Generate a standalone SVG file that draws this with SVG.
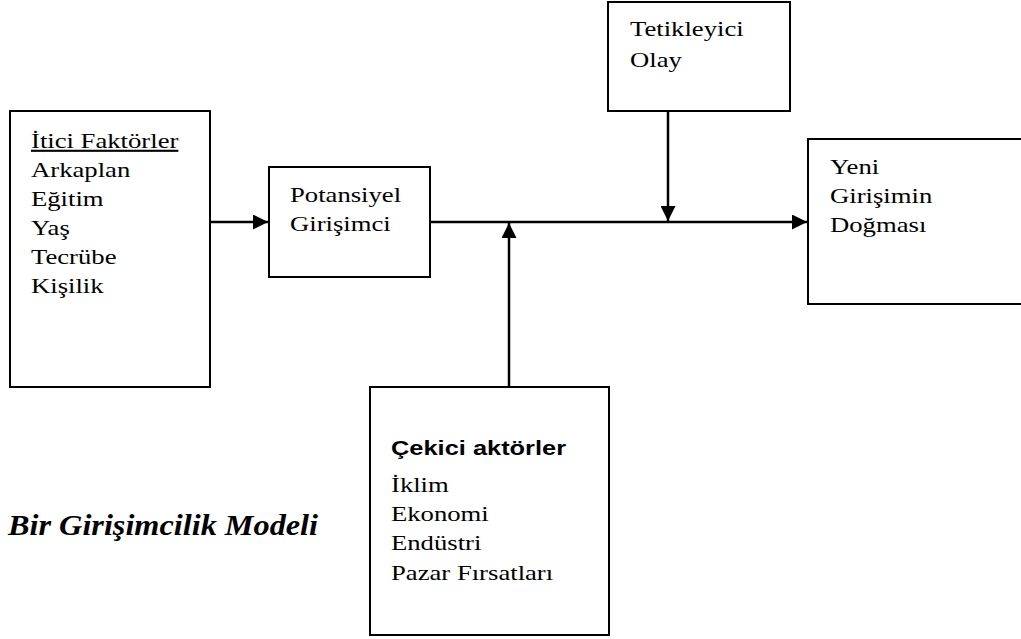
<svg xmlns="http://www.w3.org/2000/svg" width="1021" height="639" viewBox="0 0 1021 639">
<style>
.box{fill:#fff;stroke:#000;stroke-width:2}
.t{font-family:"Liberation Serif","Times New Roman",serif;font-size:21px;fill:#000}
.b{font-family:"Liberation Sans",Arial,sans-serif;font-size:20px;font-weight:bold;fill:#000}
.cap{font-family:"Liberation Serif","Times New Roman",serif;font-size:29px;font-weight:bold;font-style:italic;fill:#000}
.c{stroke:#000;stroke-width:2.5;fill:none}
</style>
<defs>
<marker id="ah" viewBox="0 0 10 10" refX="10" refY="5" markerWidth="6" markerHeight="6" orient="auto" markerUnits="strokeWidth">
<path d="M0,0 L10,5 L0,10 Z" fill="#000"/>
</marker>
</defs>
<rect width="1021" height="639" fill="#fff"/>
<g id="connectors">
<line class="c" x1="210" y1="222" x2="268" y2="222" marker-end="url(#ah)"/>
<line class="c" x1="430" y1="222" x2="807" y2="222" marker-end="url(#ah)"/>
<line class="c" x1="509" y1="387" x2="509" y2="223" marker-end="url(#ah)"/>
<line class="c" x1="668" y1="111" x2="668" y2="221" marker-end="url(#ah)"/>
</g>
<g id="itici">
<rect class="box" x="10" y="111" width="200" height="276"/>
<g transform="translate(31,0) scale(1.27,1)">
<text class="t" x="0" y="148" text-decoration="underline">İtici Faktörler</text>
<text class="t" x="0" y="177">Arkaplan</text>
<text class="t" x="0" y="206">Eğitim</text>
<text class="t" x="0" y="235">Yaş</text>
<text class="t" x="0" y="264">Tecrübe</text>
<text class="t" x="0" y="293">Kişilik</text>
</g>
</g>
<g id="potansiyel">
<rect class="box" x="269" y="167" width="161" height="110"/>
<g transform="translate(290,0) scale(1.27,1)">
<text class="t" x="0" y="202">Potansiyel</text>
<text class="t" x="0" y="231">Girişimci</text>
</g>
</g>
<g id="tetikleyici">
<rect class="box" x="608" y="2" width="182" height="109"/>
<g transform="translate(630,0) scale(1.27,1)">
<text class="t" x="0" y="36">Tetikleyici</text>
<text class="t" x="0" y="67">Olay</text>
</g>
</g>
<g id="yeni">
<rect class="box" x="808" y="139" width="220" height="165"/>
<g transform="translate(830,0) scale(1.27,1)">
<text class="t" x="0" y="174">Yeni</text>
<text class="t" x="0" y="203">Girişimin</text>
<text class="t" x="0" y="232">Doğması</text>
</g>
</g>
<g id="cekici">
<rect class="box" x="370" y="387" width="239" height="248"/>
<g transform="translate(391,0) scale(1.27,1)">
<text class="b" x="0" y="455">Çekici aktörler</text>
<text class="t" x="0" y="492">İklim</text>
<text class="t" x="0" y="521">Ekonomi</text>
<text class="t" x="0" y="550">Endüstri</text>
<text class="t" x="0" y="580">Pazar Fırsatları</text>
</g>
</g>
<text class="cap" x="8" y="535" textLength="310" lengthAdjust="spacingAndGlyphs">Bir Girişimcilik Modeli</text>
</svg>
